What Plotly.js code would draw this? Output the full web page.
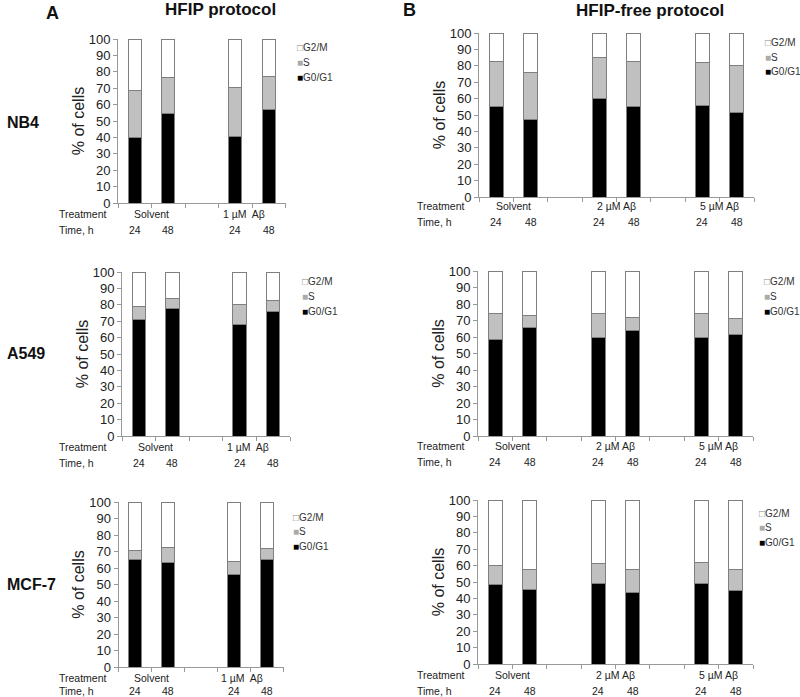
<!DOCTYPE html>
<html><head><meta charset="utf-8">
<script src="https://cdn.plot.ly/plotly-3.0.1.min.js"></script>
<style>html,body{margin:0;padding:0;background:#fff}</style>
</head><body><div id="chart" style="width:800px;height:697px"></div>
<script>
// ---- data ----
const phases = ['G0/G1', 'S', 'G2/M'];
const cellLines = ['NB4', 'A549', 'MCF-7'];
const catsA = ['Solvent 24 h', 'Solvent 48 h', '1 µM Aβ 24 h', '1 µM Aβ 48 h'];
const catsB = ['Solvent 24 h', 'Solvent 48 h', '2 µM Aβ 24 h', '2 µM Aβ 48 h', '5 µM Aβ 24 h', '5 µM Aβ 48 h'];
const timesA = ['24', '48', '24', '48'];
const timesB = ['24', '48', '24', '48', '24', '48'];
const treatA = ['Solvent', '1 µM  Aβ'];
const treatB = ['Solvent', '2 µM Aβ', '5 µM Aβ'];

// HFIP protocol (A)
const nb4A_G0G1  = [40.0, 54.3, 40.4, 56.9];
const nb4A_S     = [28.7, 22.3, 30.3, 20.3];
const nb4A_G2M   = [31.3, 23.4, 29.3, 22.8];
const a549A_G0G1 = [71.2, 77.8, 68.2, 75.7];
const a549A_S    = [7.8, 6.1, 12.0, 7.0];
const a549A_G2M  = [21.0, 16.1, 19.8, 17.3];
const mcf7A_G0G1 = [65.3, 63.6, 56.2, 65.3];
const mcf7A_S    = [5.6, 8.7, 7.8, 6.8];
const mcf7A_G2M  = [29.1, 27.7, 36.0, 27.9];

// HFIP-free protocol (B)
const nb4B_G0G1  = [54.9, 47.2, 59.8, 54.9, 55.9, 51.8];
const nb4B_S     = [27.8, 29.0, 25.2, 27.8, 26.4, 28.5];
const nb4B_G2M   = [17.3, 23.8, 15.0, 17.3, 17.7, 19.7];
const a549B_G0G1 = [58.6, 65.9, 59.4, 63.8, 59.8, 61.6];
const a549B_S    = [15.7, 7.2, 14.9, 8.1, 14.5, 9.7];
const a549B_G2M  = [25.7, 26.9, 25.7, 28.1, 25.7, 28.7];
const mcf7B_G0G1 = [48.2, 45.5, 48.8, 43.5, 49.2, 45.1];
const mcf7B_S    = [11.8, 12.2, 12.6, 14.4, 12.6, 12.8];
const mcf7B_G2M  = [40.0, 42.3, 38.6, 42.1, 38.2, 42.1];

// ---- layout config ----
const W = 800, H = 697;
const FONT = 'Arial, "Liberation Sans", sans-serif';
const px = v => v / W, py = v => 1 - v / H;
const colors = ['#000000', '#c0c0c0', '#ffffff'];
const legendSym = ['<span style="color:#000">■</span>', '<span style="color:#aaa">■</span>', '<span style="color:#888">□</span>'];

const panels = [
  {id: '',  proto: 'A', box: [118, 285.5, 39, 203],    data: [nb4A_G0G1, nb4A_S, nb4A_G2M],    leg: [295, 48],  treatY: 214, timeY: 230},
  {id: '2', proto: 'B', box: [479, 754, 33, 197],      data: [nb4B_G0G1, nb4B_S, nb4B_G2M],    leg: [763, 43],  treatY: 206, timeY: 222},
  {id: '3', proto: 'A', box: [122, 290, 272, 436],     data: [a549A_G0G1, a549A_S, a549A_G2M], leg: [300, 282], treatY: 447, timeY: 463},
  {id: '4', proto: 'B', box: [478, 753, 271, 436],     data: [a549B_G0G1, a549B_S, a549B_G2M], leg: [762, 282], treatY: 446, timeY: 462},
  {id: '5', proto: 'A', box: [118.5, 283.5, 502, 667], data: [mcf7A_G0G1, mcf7A_S, mcf7A_G2M], leg: [291, 517], treatY: 678, timeY: 691},
  {id: '6', proto: 'B', box: [478, 753, 500, 664],     data: [mcf7B_G0G1, mcf7B_S, mcf7B_G2M], leg: [757, 513], treatY: 675, timeY: 691}
];

const traces = [];
const layout = {
  width: W, height: H,
  margin: {l: 0, r: 0, t: 0, b: 0},
  paper_bgcolor: '#fff', plot_bgcolor: '#fff',
  barmode: 'stack', showlegend: false,
  font: {family: FONT, size: 12, color: '#222'},
  annotations: []
};

panels.forEach(p => {
  const isA = p.proto === 'A';
  const cats = isA ? catsA : catsB;
  const times = isA ? timesA : timesB;
  const order = isA ? [cats[0], cats[1], ' ', cats[2], cats[3]]
                    : [cats[0], cats[1], ' ', cats[2], cats[3], '  ', cats[4], cats[5]];
  const xa = 'x' + p.id, ya = 'y' + p.id;
  p.data.forEach((vals, k) => {
    traces.push({
      type: 'bar', x: cats, y: vals, name: phases[k], xaxis: xa, yaxis: ya,
      width: isA ? 0.4 : 0.41,
      marker: {color: colors[k], line: {color: '#7f7f7f', width: 1}},
      hovertemplate: '%{x}: %{y}%<extra>' + phases[k] + '</extra>'
    });
  });
  const [x0, x1, yTop, yBot] = p.box;
  layout['xaxis' + p.id] = {
    domain: [px(x0), px(x1)], anchor: ya, type: 'category',
    categoryorder: 'array', categoryarray: order,
    range: [-0.5, order.length - 0.5],
    showticklabels: false, ticks: 'outside', tickson: 'boundaries',
    ticklen: 4, tickcolor: '#999', showline: true, linecolor: '#999', linewidth: 1,
    showgrid: false, zeroline: false, fixedrange: true
  };
  layout['yaxis' + p.id] = {
    domain: [py(yBot), py(yTop)], anchor: xa,
    range: [0, 100], dtick: 10, tick0: 0,
    ticks: 'outside', ticklen: 4, tickcolor: '#999',
    showline: true, linecolor: '#999', linewidth: 1,
    showgrid: false, zeroline: false, fixedrange: true,
    tickfont: {size: 13, color: '#222', family: FONT},
    title: {text: '% of cells', font: {size: 16, color: '#222', family: FONT}, standoff: 0}
  };
  // legend (annotations, top to bottom: G2/M, S, G0/G1)
  [2, 1, 0].forEach((k, i) => {
    layout.annotations.push({
      xref: 'paper', yref: 'paper', x: px(p.leg[0]), y: py(p.leg[1] + i * 14.5),
      xanchor: 'left', yanchor: 'middle', showarrow: false,
      text: legendSym[k] + phases[k], font: {size: 10, color: '#333', family: FONT}
    });
  });
  // treatment / time rows
  const treat = isA ? treatA : treatB;
  const treatPos = isA ? [0.5, 3.25] : [0.5, 3.5, 6.5];
  const lx = isA ? 57 : 415;
  layout.annotations.push({xref: 'paper', yref: 'paper', x: px(lx), y: py(p.treatY),
    xanchor: 'left', yanchor: 'middle', showarrow: false, text: 'Treatment', font: {size: 10.5, color: '#222'}});
  layout.annotations.push({xref: 'paper', yref: 'paper', x: px(lx), y: py(p.timeY),
    xanchor: 'left', yanchor: 'middle', showarrow: false, text: 'Time, h', font: {size: 10.5, color: '#222'}});
  treat.forEach((t, i) => layout.annotations.push({
    xref: xa, yref: 'paper', x: treatPos[i], y: py(p.treatY), xanchor: 'center', yanchor: 'middle',
    showarrow: false, text: t, font: {size: 10.5, color: '#222'}
  }));
  times.forEach((t, i) => layout.annotations.push({
    xref: xa, yref: 'paper', x: cats[i], y: py(p.timeY), xanchor: 'center', yanchor: 'middle',
    showarrow: false, text: t, font: {size: 10.5, color: '#222'}
  }));
});

// row labels
const rowY = [122, 353, 584];
cellLines.forEach((c, i) => layout.annotations.push({
  xref: 'paper', yref: 'paper', x: px(5), y: py(rowY[i]), xanchor: 'left', yanchor: 'middle',
  showarrow: false, text: '<b>' + c + '</b>', font: {size: 16, color: '#111'}
}));
// panel letters and protocol titles
[['A', 52, 13], ['B', 410, 10]].forEach(([t, x, y]) => layout.annotations.push({
  xref: 'paper', yref: 'paper', x: px(x), y: py(y), xanchor: 'center', yanchor: 'middle',
  showarrow: false, text: '<b>' + t + '</b>', font: {size: 18, color: '#111'}
}));
[['HFIP protocol', 220, 9], ['HFIP-free protocol', 650, 10]].forEach(([t, x, y]) => layout.annotations.push({
  xref: 'paper', yref: 'paper', x: px(x), y: py(y), xanchor: 'center', yanchor: 'middle',
  showarrow: false, text: '<b>' + t + '</b>', font: {size: 17, color: '#111'}
}));

Plotly.newPlot('chart', traces, layout, {displayModeBar: false});
</script></body></html>
